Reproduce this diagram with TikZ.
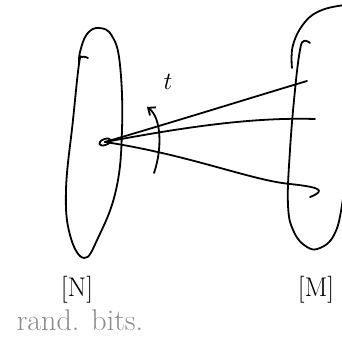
\documentclass[tikz,border=0pt]{standalone}
\usetikzlibrary{arrows.meta}
\begin{document}
\begin{tikzpicture}[x=1pt,y=-1pt,
  ink/.style={line width=1.8pt, line cap=round, line join=round},
  lbl/.style={inner sep=0pt, font=\fontsize{27}{30}\selectfont},
  graylbl/.style={inner sep=0pt, text=black!45, font=\fontsize{30}{34}\selectfont}]
\useasboundingbox (0,0) rectangle (342,349);
\clip (0,0) rectangle (342,349);
% left set
\draw[ink] plot[smooth, tension=0.7] coordinates {(88,58) (82,57) (79,64) (73,120) (66,190) (70,235) (84,258) (98,238) (116,190) (122,130) (120,65) (112,36) (99,28) (87,34) (80,52) (79,64)};
% right set
\draw[ink] plot[smooth, tension=0.7] coordinates {(292,68) (293,45) (305,22) (322,10) (345,5)};
\draw[ink] plot[smooth, tension=0.7] coordinates {(310,43) (304,41) (300,50) (295,90) (290,150) (288,205) (294,232) (307,247) (320,248) (334,235) (342,205) (348,150)};
% point
\coordinate (o) at (105,142);
\draw[ink, rotate around={20:(o)}] (o) ellipse (6pt and 3pt);
\coordinate (a1) at (307,81);
\coordinate (a2) at (315,119);
\coordinate (a3) at (310,197);
\draw[ink] (o) .. controls (180,120) and (260,95) .. (a1);
\draw[ink] (o) .. controls (180,128) and (250,117) .. (a2);
\draw[ink] (o) .. controls (190,155) and (250,180) .. (290,184) .. controls (318,187) and (328,190) .. (a3);
% arc arrow
\coordinate (s) at (154,173);
\coordinate (e) at (147,107);
\draw[ink, -{Straight Barb[length=6pt,width=10pt]}] (s) .. controls (162,150) and (162,118) .. (e);
\node[lbl] (t) at (168,82) {$t$};
\node[lbl] (N) at (77,290) {[N]};
\node[lbl] (M) at (316,290) {[M]};
\node[graylbl] (rb) at (80,320) {rand. bits.};
\end{tikzpicture}
\end{document}
